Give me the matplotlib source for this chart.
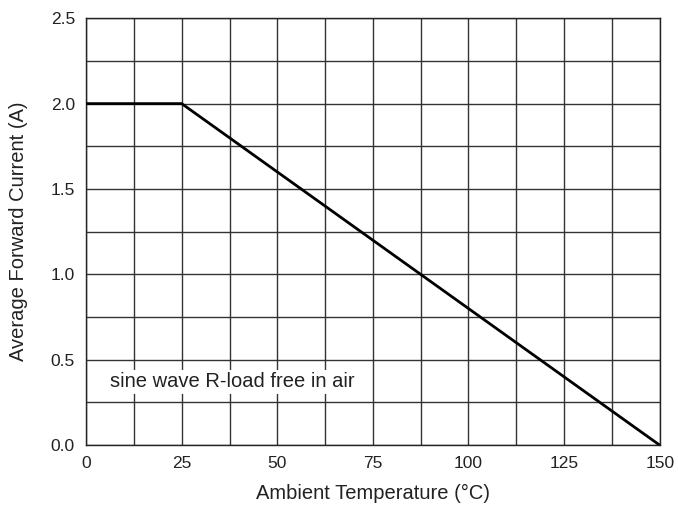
import matplotlib
matplotlib.use('Agg')
import matplotlib.pyplot as plt
import numpy as np

# ── Datos ──
temp = [0, 25, 150]           # Ambient Temperature (°C)
current = [2.0, 2.0, 0.0]     # Average Forward Current (A)
x_ticks = [0, 25, 50, 75, 100, 125, 150]
y_ticks = [0.0, 0.5, 1.0, 1.5, 2.0, 2.5]
y_labels = ['0.0', '0.5', '1.0', '1.5', '2.0', '2.5']

plt.rcParams['font.family'] = ['Liberation Sans', 'DejaVu Sans']

fig = plt.figure(figsize=(6.78, 5.07), dpi=100)
ax = fig.add_axes([0.127, 0.122, 0.846, 0.842])

ax.plot(temp, current, color='black', linewidth=2.0, solid_capstyle='butt', zorder=3)

ax.set_xlim(0, 150)
ax.set_ylim(0, 2.5)
ax.set_xticks(x_ticks)
ax.set_yticks(y_ticks)
ax.set_yticklabels(y_labels)
ax.set_xticks(np.arange(0, 151, 12.5), minor=True)
ax.set_yticks(np.arange(0, 2.51, 0.25), minor=True)
ax.grid(which='both', color='#333333', linewidth=1.0)
ax.tick_params(which='both', length=0, labelsize=12.5, colors='#222222')
ax.tick_params(axis='x', pad=8)
ax.tick_params(axis='y', pad=8)

for s in ax.spines.values():
    s.set_color('#222222')
    s.set_linewidth(1.0)

ax.set_xlabel('Ambient Temperature (°C)', fontsize=14.5, labelpad=9, color='#222222')
ax.set_ylabel('Average Forward Current (A)', fontsize=14.5, labelpad=16, color='#222222')

ax.text(6.3, 0.37, 'sine wave R-load free in air', fontsize=14.5, va='center',
        color='#222222', zorder=4,
        bbox=dict(facecolor='white', edgecolor='none', pad=2))

fig.savefig('out.png', dpi=100)
